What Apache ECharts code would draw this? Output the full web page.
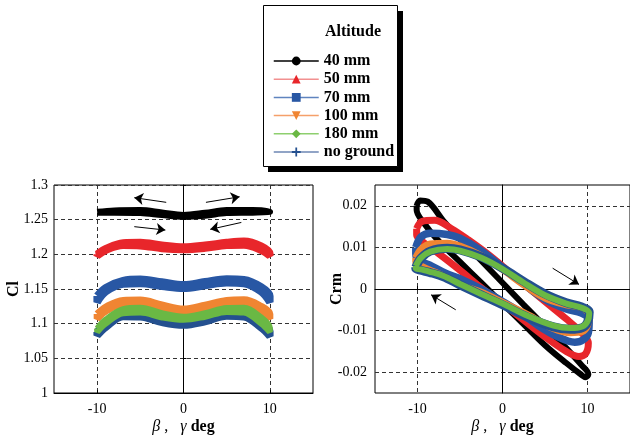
<!DOCTYPE html>
<html><head><meta charset="utf-8">
<script src="https://cdn.jsdelivr.net/npm/echarts@6/dist/echarts.min.js"></script>
<style>html,body{margin:0;padding:0;background:#fff}#c{width:630px;height:439px}</style>
</head><body><div id="c"></div>
<script>
// ---- categories / labels ----
const seriesNames = ['40 mm', '50 mm', '70 mm', '100 mm', '180 mm', 'no ground'];
const legendTitle = 'Altitude';
const xTickValues = [-10, 0, 10];
const crmTickValues = [-0.02, -0.01, 0, 0.01, 0.02];
const clRange = [1, 1.3, 0.05];

// ---- left panel: Cl vs beta (hysteresis loops) ----
const cl40 = [[-10,1.2610],[-8,1.2630],[-5,1.2635],[-2.5,1.2600],[0,1.2565],[2.5,1.2595],[5,1.2635],[8,1.2635],[10,1.2615],
              [10,1.2605],[8,1.2605],[5,1.2600],[2.5,1.2560],[0,1.2545],[-2.5,1.2570],[-5,1.2600],[-8,1.2605],[-10,1.2605],[-10,1.2610]];
const cl50 = [[-10,1.200],[-9,1.208],[-7,1.2165],[-5,1.217],[-2.5,1.213],[0,1.2105],[2.5,1.213],[5,1.217],[7,1.219],[9,1.212],[10,1.201],
              [10,1.198],[9,1.206],[7,1.2135],[5,1.213],[2.5,1.209],[0,1.207],[-2.5,1.2085],[-5,1.2125],[-7,1.213],[-9,1.206],[-10,1.198],[-10,1.200]];
const cl70 = [[-10,1.140],[-9,1.152],[-7,1.162],[-5,1.164],[-2.5,1.160],[0,1.156],[2.5,1.1605],[5,1.1645],[7,1.1635],[9,1.153],[10,1.140],
              [10,1.131],[9,1.146],[7,1.158],[5,1.159],[2.5,1.155],[0,1.151],[-2.5,1.154],[-5,1.158],[-7,1.157],[-9,1.146],[-10,1.131],[-10,1.140]];
const cl100 = [[-10,1.114],[-9,1.124],[-7,1.1335],[-5,1.134],[-2.5,1.127],[0,1.121],[2.5,1.1265],[5,1.1335],[7,1.1345],[9,1.125],[10,1.114],
               [10,1.107],[9,1.118],[7,1.1275],[5,1.128],[2.5,1.122],[0,1.116],[-2.5,1.1205],[-5,1.127],[-7,1.128],[-9,1.118],[-10,1.107],[-10,1.114]];
const cl180 = [[-10,1.093],[-9,1.106],[-7,1.121],[-5,1.123],[-2.5,1.115],[0,1.110],[2.5,1.115],[5,1.1225],[7,1.123],[9,1.109],[10,1.094],
               [10,1.088],[9,1.100],[7,1.116],[5,1.117],[2.5,1.110],[0,1.1055],[-2.5,1.109],[-5,1.116],[-7,1.115],[-9,1.100],[-10,1.088],[-10,1.093]];
const clNoGround = [[-10,1.088],[-9,1.101],[-7,1.1155],[-5,1.117],[-2.5,1.108],[0,1.103],[2.5,1.1085],[5,1.1165],[7,1.117],[9,1.104],[10,1.089],
                    [10,1.082],[9,1.094],[7,1.110],[5,1.111],[2.5,1.103],[0,1.098],[-2.5,1.102],[-5,1.110],[-7,1.1105],[-9,1.095],[-10,1.083],[-10,1.088]];

// ---- right panel: Crm vs gamma (hysteresis loops) ----
const crm40 = [[-10.1,0.0200],[-9.7,0.0213],[-8.8,0.0210],[-7,0.0165],[-5,0.0120],[-2.5,0.0068],[0,0.0015],[2.5,-0.0038],[5,-0.0090],[7.5,-0.0142],[9.3,-0.0183],[10.1,-0.0205],
               [9.8,-0.0212],[9.2,-0.0205],[7.5,-0.0178],[5,-0.0135],[2.5,-0.0085],[0,-0.0035],[-2.5,0.0015],[-5,0.0065],[-7.5,0.0115],[-9.3,0.0160],[-10.1,0.0190],[-10.1,0.0200]];
const crm50 = [[-10.1,0.0145],[-9.5,0.0162],[-8,0.0165],[-6,0.0145],[-4,0.0118],[-2,0.0088],[0,0.0055],[2.5,0.0012],[5,-0.0030],[7.5,-0.0072],[9.3,-0.0105],[10.1,-0.0130],
               [9.8,-0.0155],[9,-0.0162],[7.5,-0.0150],[5,-0.0115],[2.5,-0.0075],[0,-0.0035],[-2.5,0.0003],[-5,0.0045],[-7.5,0.0085],[-9.3,0.0112],[-10.1,0.0130],[-10.1,0.0145]];
const crm70 = [[-10.2,0.0100],[-9.6,0.0125],[-8.5,0.0134],[-6.5,0.0131],[-5,0.0122],[-2.5,0.0092],[0,0.0052],[2.5,0.0012],[5,-0.0025],[7.5,-0.0048],[9.3,-0.0058],[10.2,-0.0075],
               [10.1,-0.0105],[9.5,-0.0122],[8.5,-0.0128],[6.5,-0.0115],[4.2,-0.0088],[2,-0.0055],[0,-0.0030],[-2.5,0.0000],[-4.7,0.0022],[-6.7,0.0038],[-8.6,0.0058],[-9.8,0.0068],[-10.2,0.0085],[-10.2,0.0100]];
const crm100 = [[-10.2,0.0075],[-9.6,0.0095],[-8.5,0.0108],[-6.5,0.0110],[-5,0.0103],[-2.5,0.0080],[0,0.0047],[2.5,0.0010],[5,-0.0022],[7.5,-0.0038],[9.3,-0.0045],[10.2,-0.0065],
                [10,-0.0088],[9.4,-0.0102],[8,-0.0105],[6,-0.0095],[3,-0.0062],[0,-0.0032],[-2.5,-0.0008],[-4.7,0.0008],[-7,0.0032],[-8.6,0.0046],[-9.6,0.0055],[-10.2,0.0065],[-10.2,0.0075]];
const crm180 = [[-10.2,0.0055],[-9.6,0.0075],[-8.5,0.0090],[-6.5,0.0096],[-5,0.0092],[-2.5,0.0075],[0,0.0048],[2.5,0.0015],[5,-0.0015],[7.5,-0.0035],[9.3,-0.0045],[10.2,-0.0058],
                [10,-0.0078],[9.4,-0.0090],[8,-0.0094],[6,-0.0088],[3,-0.0065],[0,-0.0035],[-2.5,-0.0012],[-5,0.0012],[-7,0.0032],[-8.6,0.0042],[-9.6,0.0047],[-10.2,0.0050],[-10.2,0.0055]];
const crmNoGround = [[-10.2,0.0052],[-9.6,0.0074],[-8.5,0.0091],[-6.5,0.0098],[-5,0.0094],[-2.5,0.0077],[0,0.0050],[2.5,0.0018],[5,-0.0012],[7.5,-0.0033],[9.3,-0.0043],[10.2,-0.0056],
                     [10,-0.0080],[9.4,-0.0093],[8,-0.0097],[6,-0.0091],[3,-0.0068],[0,-0.0038],[-2.5,-0.0014],[-5,0.0010],[-7,0.0030],[-8.6,0.0040],[-9.6,0.0045],[-10.2,0.0049],[-10.2,0.0052]];

// ---- direction arrows (data coordinates: start -> end) ----
const clArrows = [[[-2.0,1.275],[-5.7,1.2817]],[[2.6,1.275],[6.5,1.283]],[[-5.7,1.2399],[-2.1,1.235]],[[6.7,1.246],[3.1,1.236]]];
const crmArrows = [[[5.9,0.0050],[9.0,0.0011]],[[-5.5,-0.0050],[-8.4,-0.0014]]];

const clData = [cl40, cl50, cl70, cl100, cl180, clNoGround];
const crmData = [crm40, crm50, crm70, crm100, crm180, crmNoGround];

// ---- styles ----
const colors = ['#000000', '#e8262b', '#2857a4', '#f08532', '#6ab844', '#24508f'];
const legendLineColors = ['#000000', '#f29090', '#5f84bf', '#f5a06a', '#8ecf6e', '#6d86b3'];
const symbols = ['circle', 'triangle', 'rect', 'path://M0,0L10,0L5,9Z', 'diamond',
  'path://M4,0H6V4H10V6H6V10H4V6H0V4H4Z'];
const leftWidths = [6.5, 7.5, 7.5, 7, 6, 7.5];
const rightWidths = [6, 7, 7.5, 7, 6, 9];
const zs = [2, 2, 2, 2, 4, 3];

const serif = '"Liberation Serif", "Times New Roman", serif';

function arrowMarkLine(list) {
  return {
    silent: true, symbol: ['none', 'arrow'], symbolSize: 9, animation: false,
    label: { show: false }, emphasis: { disabled: true },
    lineStyle: { color: '#000', width: 1, type: 'solid' },
    data: list.map(a => [{ coord: a[0] }, { coord: a[1] }])
  };
}

const series = [];
seriesNames.forEach((n, i) => {
  series.push({
    type: 'line', name: n, data: clData[i], xAxisIndex: 0, yAxisIndex: 0,
    smooth: 0.35, showSymbol: false, symbol: symbols[i], silent: true, z: zs[i],
    lineStyle: { color: colors[i], width: leftWidths[i] }, itemStyle: { color: colors[i] },
    animation: false,
    markLine: i === 0 ? arrowMarkLine(clArrows) : undefined
  });
  series.push({
    type: 'line', name: n, data: crmData[i], xAxisIndex: 1, yAxisIndex: 1,
    smooth: 0.35, showSymbol: false, symbol: symbols[i], silent: true, z: zs[i],
    lineStyle: { color: colors[i], width: rightWidths[i] }, itemStyle: { color: colors[i] },
    animation: false,
    markLine: i === 0 ? arrowMarkLine(crmArrows) : undefined
  });
});

const axisLabelStyle = { fontFamily: serif, fontSize: 14, color: '#000' };
const splitLine = { show: true, lineStyle: { color: '#333', type: [4, 3], width: 1 } };
const axisLine = { show: true, lineStyle: { color: '#000', width: 1 } };
const axisTick = { show: true, inside: true, length: 3, lineStyle: { color: '#000' } };
const xName = '{i|β}{n| ,   }{i|γ}{b| deg}';
const xNameStyle = {
  fontFamily: serif, fontSize: 16, color: '#000',
  rich: {
    i: { fontFamily: serif, fontStyle: 'italic', fontSize: 16, color: '#000' },
    n: { fontFamily: serif, fontSize: 16, color: '#000' },
    b: { fontFamily: serif, fontWeight: 'bold', fontSize: 16, color: '#000' }
  }
};

function xAxis(idx) {
  return {
    type: 'value', gridIndex: idx, min: -15, max: 15,
    axisLine, splitLine,
    axisTick: Object.assign({ customValues: xTickValues }, axisTick),
    axisLabel: { customValues: xTickValues, margin: 9, ...axisLabelStyle },
    name: xName, nameLocation: 'middle', nameGap: 26, nameTextStyle: xNameStyle
  };
}

const option = {
  backgroundColor: '#fff',
  animation: false,
  grid: [
    { left: 54, top: 185, width: 259, height: 208, show: true, borderColor: '#000', borderWidth: 1, containLabel: false },
    { left: 375, top: 185, width: 258, height: 208, show: true, borderColor: '#000', borderWidth: 1, containLabel: false }
  ],
  xAxis: [xAxis(0), xAxis(1)],
  yAxis: [
    {
      type: 'value', gridIndex: 0, min: clRange[0], max: clRange[1], interval: clRange[2],
      axisLine, splitLine, axisTick,
      axisLabel: { margin: 6, ...axisLabelStyle },
      name: 'Cl', nameLocation: 'middle', nameRotate: 90, nameGap: 32, nameMoveOverlap: false,
      nameTextStyle: { fontFamily: serif, fontWeight: 'bold', fontSize: 16, color: '#000' }
    },
    {
      type: 'value', gridIndex: 1, min: -0.025, max: 0.025,
      axisLine, splitLine,
      axisTick: Object.assign({ customValues: crmTickValues }, axisTick),
      axisLabel: { customValues: crmTickValues, margin: 8, ...axisLabelStyle },
      name: 'Crm', nameLocation: 'middle', nameRotate: 90, nameGap: 30, nameMoveOverlap: false,
      nameTextStyle: { fontFamily: serif, fontWeight: 'bold', fontSize: 16, color: '#000' }
    }
  ],
  legend: {
    orient: 'vertical', left: 268, top: 48, itemWidth: 45, itemHeight: 11, itemGap: 2.2,
    selectedMode: false,
    textStyle: { fontFamily: serif, fontWeight: 'bold', fontSize: 16, color: '#000', lineHeight: 16 },
    data: seriesNames.map((n, i) => ({
      name: n,
      itemStyle: { color: colors[i] },
      lineStyle: { color: legendLineColors[i], width: 1.5 }
    }))
  },
  graphic: [
    { type: 'rect', z: 0, shape: { x: 268, y: 11, width: 135, height: 161 }, style: { fill: '#000' } },
    { type: 'rect', z: 1, shape: { x: 263.5, y: 5.5, width: 134, height: 161 }, style: { fill: '#fff', stroke: '#000', lineWidth: 1 } },
    { type: 'text', z: 2, x: 353, y: 32, style: { text: legendTitle, font: 'bold 16px ' + serif, textAlign: 'center', textVerticalAlign: 'middle', fill: '#000' } }
  ],
  series
};

const chart = echarts.init(document.getElementById('c'), null, { renderer: 'canvas' });
chart.setOption(option);
</script>
</body></html>
